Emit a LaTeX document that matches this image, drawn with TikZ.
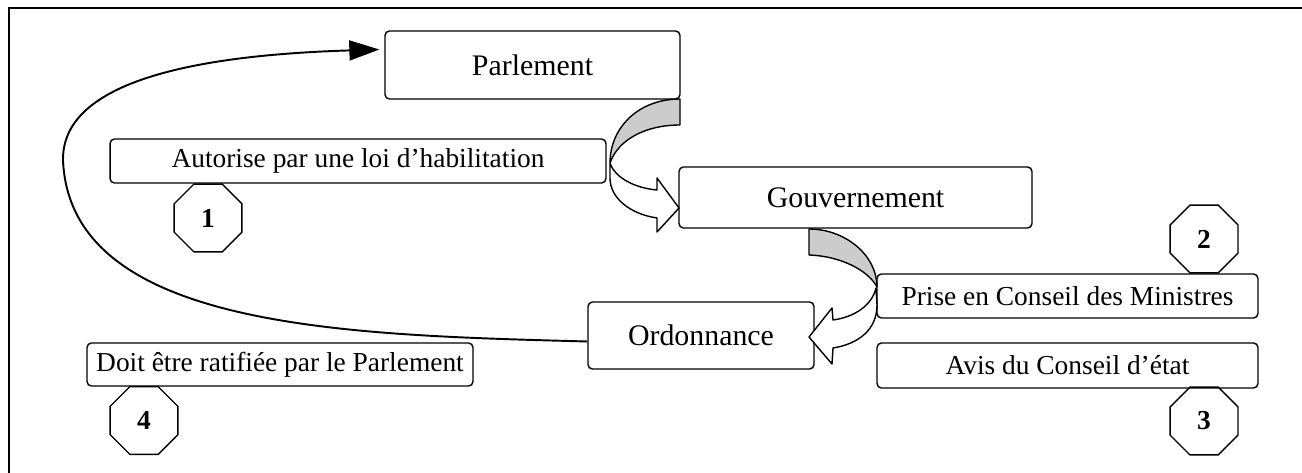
\documentclass[tikz,border=0pt]{standalone}
\usepackage{fontspec}
\setmainfont{Liberation Serif}
\usepackage{xcolor}
\usepackage{tikz}
\usetikzlibrary{positioning, arrows.meta, shapes.geometric}
\definecolor{bandgrey}{RGB}{204,204,204}

\begin{document}
\begin{tikzpicture}[x=0.02cm, y=-0.02cm,
  box/.style={draw, line width=0.8pt, rounded corners=2.5pt, inner sep=0pt, align=center, font=\fontsize{15.6}{18}\selectfont},
  bigbox/.style={box, font=\fontsize{17}{20}\selectfont},
  numoct/.style={draw, line width=0.8pt, regular polygon, regular polygon sides=8, minimum size=1.47cm, inner sep=0pt, font=\fontsize{15.6}{18}\selectfont\bfseries},
  band/.style={draw, line width=0.8pt, line join=round}]
  \useasboundingbox (0,0) rectangle (1302,473);
  \clip (0,0) rectangle (1302,473);
  \draw[line width=1.2pt] (9,480) -- (9,8) -- (1310,8);

  \node[bigbox, minimum width=5.9cm, minimum height=1.36cm] (parl) at (532.5,65) {Parlement};
  \node[box, minimum width=9.92cm, minimum height=0.88cm] (auto) at (358,161) {Autorise par une loi d’habilitation};
  \node[bigbox, minimum width=7.06cm, minimum height=1.22cm] (gouv) at (855.5,197.5) {Gouvernement};
  \node[box, minimum width=7.62cm, minimum height=0.88cm] (prise) at (1067.5,296) {Prise en Conseil des Ministres};
  \node[box, minimum width=7.62cm, minimum height=0.9cm] (avis) at (1067.5,365.5) {Avis du Conseil d’état};
  \node[bigbox, minimum width=4.52cm, minimum height=1.34cm] (ord) at (701,335.5) {Ordonnance};
  \node[box, minimum width=7.72cm, minimum height=0.86cm] (doit) at (280,364.5) {Doit être ratifiée par le Parlement};

  \node[numoct] (one) at (208,218) {1};
  \node[numoct] (two) at (1204,239) {2};
  \node[numoct] (three) at (1204,421) {3};
  \node[numoct] (four) at (144,420.5) {4};

  \draw[band, fill=white] (610,163) .. controls (615,178) and (635,188) .. (657,190) -- (657,178) -- (679,208) -- (657,232) -- (657,218) .. controls (630,214) and (610,198) .. (610,178) -- cycle;
  \draw[band, fill=bandgrey] (680,99) .. controls (638,99) and (610,128) .. (610,163) .. controls (618,140) and (645,125) .. (680,125) -- cycle;

  \draw[band, fill=white] (876,288) .. controls (872,305) and (855,317) .. (833,320) -- (832,308) -- (809,337) -- (832,364) -- (833,348) .. controls (858,344) and (877,330) .. (877,305) -- cycle;
  \draw[band, fill=bandgrey] (809,229) .. controls (845,229) and (877,255) .. (877,287) .. controls (868,270) and (840,256) .. (809,255) -- cycle;

  \draw[line width=1.1pt, -{Triangle[length=0.6cm, width=0.4cm]}] ([yshift=-0.12cm]ord.west) .. controls (350,335) and (70,330) .. (63,160) .. controls (62,80) and (200,55) .. ([xshift=-0.1cm,yshift=0.31cm]parl.west);
\end{tikzpicture}
\end{document}
